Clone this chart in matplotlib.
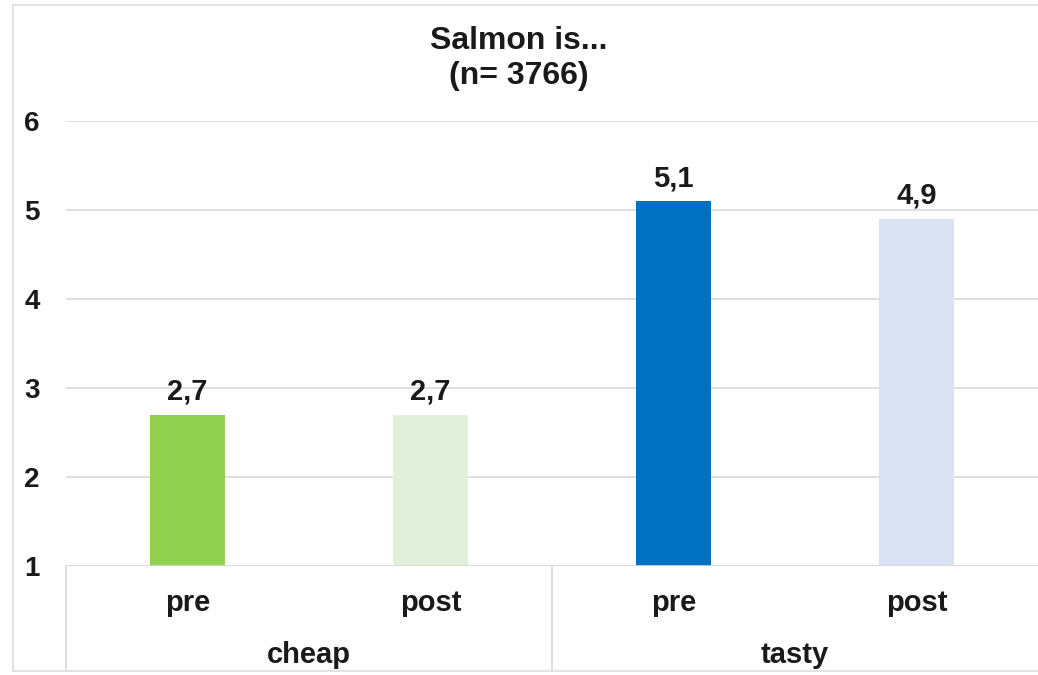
import numpy as np
import matplotlib
matplotlib.use('Agg')
from matplotlib import pyplot as plt
from matplotlib.lines import Line2D

groups = ['cheap', 'tasty']
phases = ['pre', 'post']
values = [2.7, 2.7, 5.1, 4.9]
value_labels = ['2,7', '2,7', '5,1', '4,9']
colors = ['#92D050', '#E2EFDA', '#0070C0', '#DAE3F3']
yticks = [1, 2, 3, 4, 5, 6]

plt.rcParams['font.family'] = ['Liberation Sans', 'DejaVu Sans']
plt.rcParams['font.weight'] = 'bold'
ink = '#1a1a1a'
grid = '#d9d9d9'

fig = plt.figure(figsize=(10.38, 6.75), dpi=100)
ax = fig.add_axes([66/1038, 1 - 566/675, 1 - 66/1038, (566 - 121)/675])

x = np.arange(len(values))
# bars start at 1, the bottom of the scale
ax.bar(x, np.array(values) - 1, bottom=1, width=0.31, color=colors, zorder=3)
for xi, v, lab in zip(x, values, value_labels):
    ax.text(xi, v + 0.1, lab, ha='center', va='bottom', fontsize=21,
            fontweight='bold', color=ink)

ax.set_xlim(-0.5, len(values) - 0.5)
ax.set_ylim(1, 6)
ax.set_yticks(yticks)
ax.set_yticklabels([str(t) for t in yticks], fontsize=20, fontweight='bold',
                   color=ink)
ax.tick_params(axis='y', length=0, pad=19)
ax.set_xticks([])
ax.grid(axis='y', color=grid, linewidth=1.2, zorder=0)
for s in ax.spines.values():
    s.set_visible(False)
ax.axhline(1, color=grid, linewidth=1.2, zorder=4)

# two-level category axis below the plot
trans = ax.get_xaxis_transform()
for xi, ph in zip(x, phases * 2):
    ax.text(xi, -0.083, ph, transform=trans, ha='center', va='center',
            fontsize=21, fontweight='bold', color=ink)
for gi, g in enumerate(groups):
    ax.text(gi * 2 + 0.5, -0.2, g, transform=trans, ha='center', va='center',
            fontsize=21, fontweight='bold', color=ink)
for xs in [-0.5, 1.5]:
    ax.add_line(Line2D([xs, xs], [0, -0.235], transform=trans, color=grid,
                       linewidth=1.2, clip_on=False))

fig.text(0.5, 1 - 41/675, 'Salmon is...', ha='center', va='center',
         fontsize=23, fontweight='bold', color=ink)
fig.text(0.5, 1 - 76/675, '(n= 3766)', ha='center', va='center',
         fontsize=23, fontweight='bold', color=ink)

# thin outer frame (left, top, bottom)
fx0, fy0, fy1 = 13/1038, 1 - 671/675, 1 - 5/675
for xd, yd in [([fx0, fx0], [fy0, fy1]), ([fx0, 1], [fy1, fy1]),
               ([fx0, 1], [fy0, fy0])]:
    fig.add_artist(Line2D(xd, yd, transform=fig.transFigure, color='#e3e3e3',
                          linewidth=1.5))

fig.savefig('out.png', dpi=100)
